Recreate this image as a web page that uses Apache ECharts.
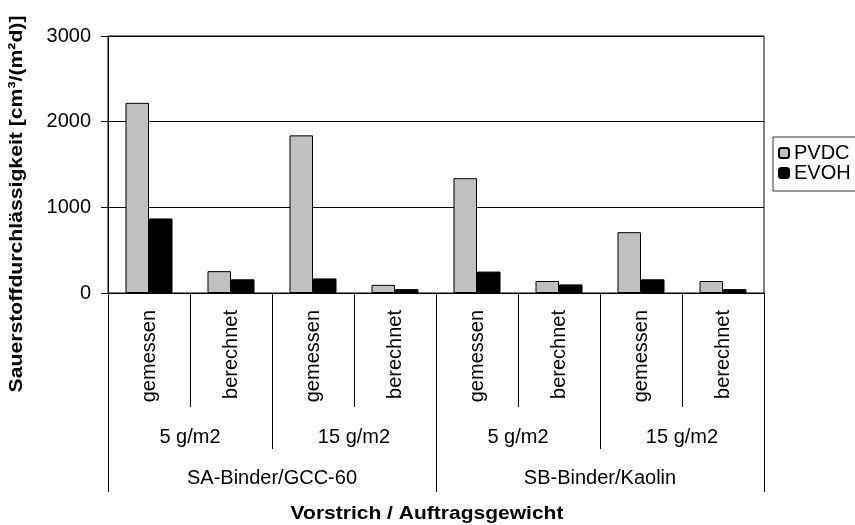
<!DOCTYPE html>
<html>
<head>
<meta charset="utf-8">
<script src="https://cdn.jsdelivr.net/npm/echarts@6/dist/echarts.min.js"></script>
<style>
  html, body { margin: 0; padding: 0; background: #fff; }
  #chart { width: 855px; height: 525px; }
</style>
</head>
<body>
<div id="chart"></div>
<script>
// Inner category level: measurement type
const measureLabels = ['gemessen', 'berechnet', 'gemessen', 'berechnet', 'gemessen', 'berechnet', 'gemessen', 'berechnet'];
// Middle level: coat weight
const weightLabels = ['5 g/m2', '15 g/m2', '5 g/m2', '15 g/m2'];
// Outer level: precoat
const precoatLabels = ['SA-Binder/GCC-60', 'SB-Binder/Kaolin'];

const seriesNames = ['PVDC', 'EVOH'];
const pvdcValues = [2220, 255, 1840, 95, 1340, 140, 710, 140];
const evohValues = [870, 160, 170, 45, 250, 100, 160, 45];

const yTicks = [0, 1000, 2000, 3000];

const FONT = '"Liberation Sans", Arial, sans-serif';
const FS = 20;

const chart = echarts.init(document.getElementById('chart'), null, { renderer: 'canvas' });

const baseAxis = {
  type: 'category',
  position: 'bottom',
  boundaryGap: true,
  axisLine: { show: false },
  splitLine: { show: false }
};

chart.setOption({
  animation: false,
  backgroundColor: '#fff',
  grid: {
    left: 108, top: 36, right: 91, bottom: 232,
    show: true, borderColor: '#000', borderWidth: 1, backgroundColor: 'transparent'
  },
  legend: {
    data: seriesNames,
    orient: 'vertical',
    left: 773, top: 137,
    itemWidth: 10, itemHeight: 10, itemGap: 0,
    padding: [6, 14, 8, 5],
    borderColor: '#333', borderWidth: 1,
    textStyle: { color: '#000', fontFamily: FONT, fontSize: 20, lineHeight: 20 }
  },
  xAxis: [
    Object.assign({}, baseAxis, {
      data: measureLabels,
      axisLine: { show: true, lineStyle: { color: '#000', width: 1 } },
      axisTick: { show: true, length: 114, lineStyle: { color: '#000', width: 1 } },
      axisLabel: { color: '#000', fontFamily: FONT, fontSize: FS, interval: 0, rotate: 90, margin: 17 }
    }),
    Object.assign({}, baseAxis, {
      data: weightLabels,
      axisTick: { show: true, length: 156, lineStyle: { color: '#000', width: 1 } },
      axisLabel: { color: '#000', fontFamily: FONT, fontSize: FS, interval: 0, margin: 134 }
    }),
    Object.assign({}, baseAxis, {
      data: precoatLabels,
      axisTick: { show: true, length: 199, lineStyle: { color: '#000', width: 1 } },
      axisLabel: { color: '#000', fontFamily: FONT, fontSize: FS, interval: 0, margin: 175 }
    })
  ],
  yAxis: {
    type: 'value',
    min: yTicks[0],
    max: yTicks[yTicks.length - 1],
    interval: yTicks[1] - yTicks[0],
    axisLine: { show: true, lineStyle: { color: '#000', width: 1 } },
    axisTick: { show: true, inside: false, length: 7, lineStyle: { color: '#000' } },
    axisLabel: {
      color: '#000', fontFamily: FONT, fontSize: FS, margin: 17,
      formatter: function (v) { return String(v); }
    },
    splitLine: { show: true, lineStyle: { color: '#000', width: 1 } }
  },
  series: [
    {
      name: seriesNames[0], type: 'bar', xAxisIndex: 0,
      data: pvdcValues, barWidth: 23.5, barGap: '0%',
      itemStyle: { color: '#c0c0c0', borderColor: '#000', borderWidth: 1 }
    },
    {
      name: seriesNames[1], type: 'bar', xAxisIndex: 0,
      data: evohValues, barWidth: 23.5, barGap: '0%',
      itemStyle: { color: '#000', borderColor: '#000', borderWidth: 1 }
    }
  ],
  graphic: [
    {
      type: 'text', x: 17, y: 204, rotation: Math.PI / 2, scaleX: 1.14,
      style: {
        text: 'Sauerstoffdurchlässigkeit [cm³/(m²d)]',
        font: 'bold 18.6px "Liberation Sans", Arial, sans-serif', fill: '#000',
        textAlign: 'center', textVerticalAlign: 'middle'
      }
    },
    {
      type: 'text', x: 427, y: 514, scaleX: 1.13,
      style: {
        text: 'Vorstrich / Auftragsgewicht',
        font: 'bold 18.6px "Liberation Sans", Arial, sans-serif', fill: '#000',
        textAlign: 'center', textVerticalAlign: 'middle'
      }
    }
  ]
});
</script>
</body>
</html>
